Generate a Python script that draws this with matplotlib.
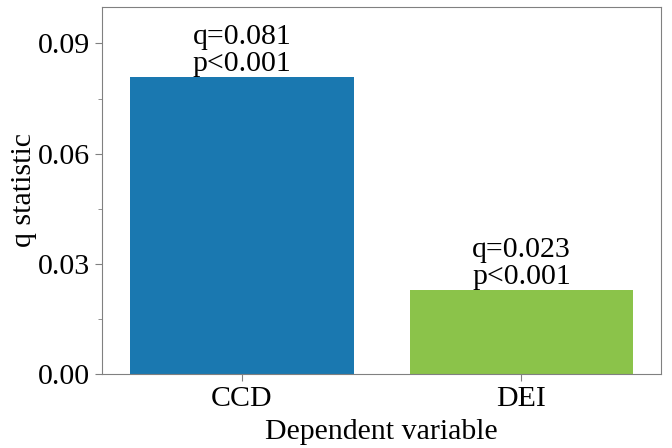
import matplotlib.pyplot as plt
from matplotlib.ticker import MultipleLocator

# Data
categories = ['CCD', 'DEI']
q_values = [0.081, 0.023]
p_labels = ['p<0.001', 'p<0.001']
bar_colors = ['#1a78b0', '#8bc34a']

plt.rcParams['font.family'] = ['Liberation Serif', 'DejaVu Serif']
plt.rcParams['font.size'] = 21.5

fig, ax = plt.subplots(figsize=(6.72, 4.48), dpi=100)
fig.subplots_adjust(left=0.152, right=0.984, top=0.985, bottom=0.165)

x = range(len(categories))
bars = ax.bar(x, q_values, width=0.8, color=bar_colors)

for bar, q, p in zip(bars, q_values, p_labels):
    ax.text(bar.get_x() + bar.get_width() / 2, q, f"q={q:.3f}\n{p}",
            ha='center', va='bottom', linespacing=1.03)

ax.set_xticks(list(x))
ax.set_xticklabels(categories)
ax.set_xlim(-0.5, 1.5)
ax.set_ylim(0, 0.1)
ax.yaxis.set_major_locator(MultipleLocator(0.03))
ax.yaxis.set_minor_locator(MultipleLocator(0.015))
ax.yaxis.set_major_formatter(plt.FormatStrFormatter('%.2f'))

ax.set_xlabel('Dependent variable', labelpad=5)
ax.set_ylabel('q statistic', labelpad=1)

for spine in ax.spines.values():
    spine.set_color('#808080')
ax.tick_params(which='both', color='#808080')
ax.tick_params(which='major', length=5)
ax.tick_params(which='minor', length=3)

fig.savefig('out.png', dpi=100)
